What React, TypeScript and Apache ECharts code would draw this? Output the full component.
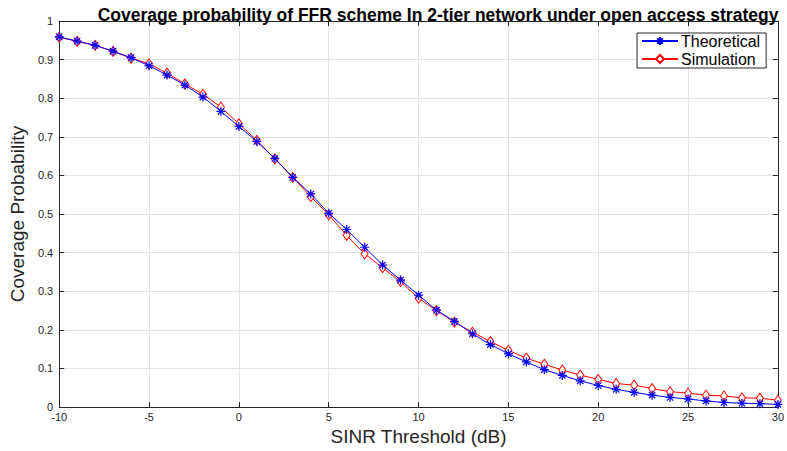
import React, { useEffect, useRef } from "react";
import * as echarts from "echarts";

const xValues = [-10, -9, -8, -7, -6, -5, -4, -3, -2, -1, 0, 1, 2, 3, 4, 5, 6, 7, 8, 9, 10, 11, 12, 13, 14, 15, 16, 17, 18, 19, 20, 21, 22, 23, 24, 25, 26, 27, 28, 29, 30];
const theoretical = [0.959, 0.948, 0.937, 0.922, 0.905, 0.884, 0.860, 0.834, 0.803, 0.766, 0.727, 0.688, 0.644, 0.595, 0.552, 0.502, 0.460, 0.414, 0.368, 0.329, 0.290, 0.251, 0.222, 0.190, 0.162, 0.138, 0.117, 0.097, 0.082, 0.068, 0.056, 0.046, 0.038, 0.031, 0.025, 0.021, 0.016, 0.012, 0.010, 0.009, 0.007];
const simulation = [0.958, 0.947, 0.937, 0.921, 0.904, 0.889, 0.865, 0.837, 0.810, 0.777, 0.734, 0.691, 0.643, 0.595, 0.545, 0.498, 0.445, 0.397, 0.361, 0.325, 0.282, 0.250, 0.220, 0.194, 0.170, 0.147, 0.127, 0.111, 0.096, 0.083, 0.072, 0.061, 0.057, 0.048, 0.040, 0.036, 0.031, 0.029, 0.024, 0.023, 0.018];

const titleText = "Coverage probability of FFR scheme In 2-tier network under open access strategy";
const xName = "SINR Threshold (dB)";
const yName = "Coverage Probability";
const seriesNames = ["Theoretical", "Simulation"];

const starPath = "path://M5,0 L5,10 M0,5 L10,5 M1.5,1.5 L8.5,8.5 M8.5,1.5 L1.5,8.5";

export default function App() {
  const ref = useRef<HTMLDivElement>(null);
  useEffect(() => {
    if (!ref.current) return;
    const chart = echarts.init(ref.current, null, { renderer: "svg" });
    const font = "'Liberation Sans', Arial, Helvetica, sans-serif";
    const axisColor = "#262626";
    const gridColor = "#e3e3e3";
    const toPairs = (ys: number[]) => xValues.map((x, i) => [x, ys[i]]);
    chart.setOption({
      animation: false,
      backgroundColor: "#ffffff",
      textStyle: { fontFamily: font },
      title: {
        text: titleText,
        left: 433,
        textAlign: "center",
        top: 1,
        textStyle: { fontFamily: font, fontSize: 17.5, fontWeight: "bold", color: "#000" },
      },
      legend: {
        left: 637,
        top: 33,
        orient: "vertical",
        itemWidth: 36,
        itemHeight: 10,
        itemGap: 2,
        padding: [0, 6, 1, 4],
        borderColor: axisColor,
        borderWidth: 1,
        backgroundColor: "#fff",
        borderRadius: 0,
        textStyle: { fontFamily: font, fontSize: 16, color: "#000", padding: [0, 0, 0, -2] },
        data: seriesNames,
      },
      grid: { left: 54, right: 6, top: 21, bottom: 40, containLabel: false },
      xAxis: [
        {
          type: "value",
          min: -10,
          max: 30,
          interval: 5,
          name: xName,
          nameLocation: "middle",
          nameGap: 17,
          nameTextStyle: { fontFamily: font, fontSize: 19, color: axisColor },
          axisLine: { onZero: false, lineStyle: { color: axisColor, width: 1 } },
          axisTick: { inside: true, length: 5, lineStyle: { color: axisColor } },
          axisLabel: { fontFamily: font, fontSize: 11, color: axisColor, margin: 4, showMaxLabel: true },
          splitLine: { show: true, lineStyle: { color: gridColor, width: 1 } },
        },
        {
          type: "value",
          min: -10,
          max: 30,
          interval: 5,
          position: "top",
          axisLine: { onZero: false, lineStyle: { color: axisColor, width: 1 } },
          axisTick: { inside: true, length: 5, lineStyle: { color: axisColor } },
          axisLabel: { show: false },
          splitLine: { show: false },
        },
      ],
      yAxis: [
        {
          type: "value",
          min: 0,
          max: 1,
          interval: 0.1,
          name: yName,
          nameLocation: "middle",
          nameGap: 24,
          nameTextStyle: { fontFamily: font, fontSize: 19, color: axisColor },
          axisLine: { show: true, onZero: false, lineStyle: { color: axisColor, width: 1 } },
          axisTick: { show: true, inside: true, length: 5, lineStyle: { color: axisColor } },
          axisLabel: {
            fontFamily: font,
            fontSize: 11,
            color: axisColor,
            margin: 6,
            formatter: (v: number) => String(Math.round(v * 10) / 10),
          },
          splitLine: { show: true, lineStyle: { color: gridColor, width: 1 } },
        },
        {
          type: "value",
          min: 0,
          max: 1,
          interval: 0.1,
          position: "right",
          axisLine: { show: true, onZero: false, lineStyle: { color: axisColor, width: 1 } },
          axisTick: { show: true, inside: true, length: 5, lineStyle: { color: axisColor } },
          axisLabel: { show: false },
          splitLine: { show: false },
        },
      ],
      series: [
        {
          name: seriesNames[0],
          type: "line",
          data: toPairs(theoretical),
          symbol: starPath,
          symbolSize: 9,
          showAllSymbol: true,
          lineStyle: { color: "#0000ff", width: 1 },
          itemStyle: { color: "#0000ff", borderColor: "#0000ff", borderWidth: 1.2 },
          z: 3,
        },
        {
          name: seriesNames[1],
          type: "line",
          data: toPairs(simulation),
          symbol: "diamond",
          symbolSize: [7, 10],
          showAllSymbol: true,
          lineStyle: { color: "#ff0000", width: 1 },
          itemStyle: { color: "#ffffff", borderColor: "#ff0000", borderWidth: 1 },
          z: 2,
        },
      ],
    });
    return () => chart.dispose();
  }, []);
  return <div ref={ref} style={{ position: "fixed", left: 0, top: 0, width: 787, height: 451 }} />;
}
